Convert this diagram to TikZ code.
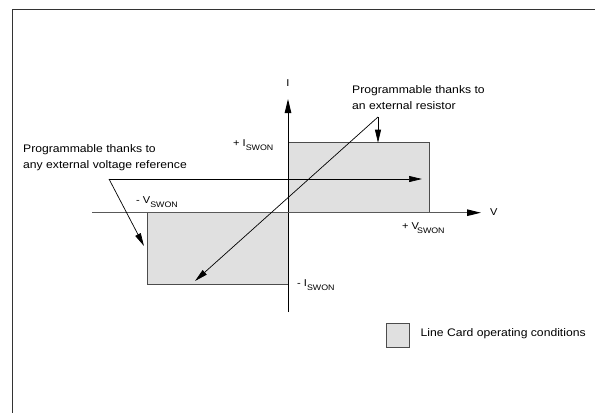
\documentclass[tikz,border=0pt]{standalone}
\usepackage{fontspec}
\setmainfont{Liberation Sans}[FakeStretch=1.11]
\usetikzlibrary{arrows.meta}
\newcommand{\swonlbl}[1]{#1\raisebox{-3.5bp}{\fontsize{8}{8}\selectfont SWON}}
\begin{document}
\begin{tikzpicture}[x=1bp,y=-1bp,
  txt/.style={font=\fontsize{11}{16}\selectfont, inner sep=0pt, align=left, anchor=base west},
  axlbl/.style={font=\fontsize{10}{12}\selectfont, inner sep=0pt, anchor=base west},
  region/.style={draw=black!70, fill=black!12, line width=1bp},
  axisline/.style={draw=black, line width=1bp, -{Triangle[length=14bp,width=6.5bp]}},
  annot/.style={draw=black, line width=0.7bp, -{Triangle[length=13bp,width=6bp]}},
  frameline/.style={draw=black!80, line width=1.3bp}]
\useasboundingbox (0,0) rectangle (595,412);
\draw[frameline] (12.5,413) -- (12.5,9.5) -- (596,9.5);
% regions
\coordinate (O) at (288,212.7);
\coordinate (upTL) at (288,142.7);
\coordinate (upBR) at (429,212.7);
\coordinate (loTL) at (147,212.7);
\coordinate (loBR) at (288,284.3);
\draw[region] (upTL) rectangle (upBR);
\draw[region] (loTL) rectangle (loBR);
% axes
\coordinate (yb) at (288,312);
\coordinate (yt) at (288,99);
\coordinate (xl) at (92,212.7);
\coordinate (xr) at (481,212.7);
\draw[axisline] (yb) -- (yt);
\draw[axisline, draw=black!65, -{Triangle[length=14bp,width=6.5bp,color=black]}] (xl) -- (xr);
\node[font=\fontsize{10}{12}\selectfont, inner sep=0pt] (ilbl) at (288,83) {I};
\node[font=\fontsize{10}{12}\selectfont, inner sep=0pt, anchor=west] (vlbl) at (490,212) {V};
% axis value labels
\node[axlbl] (pI) at (233,146.5) {+ \swonlbl{I}};
\node[axlbl] (mV) at (136,203.5) {- \swonlbl{V}};
\node[axlbl] (pV) at (402,229.5) {+ \swonlbl{V\kern-2bp}};
\node[axlbl] (mI) at (297,286.5) {- \swonlbl{I}};
% annotations
\node[txt] (resnote) at (352,109) {Programmable thanks to\\an external resistor};
\node[txt] (vrefnote) at (23,168) {Programmable thanks to\\any external voltage reference};
\coordinate (R) at (378,117);
\coordinate (Rdown) at (378,142.7);
\coordinate (Rdiag) at (195,281);
\coordinate (L) at (109,179);
\coordinate (Lright) at (422,179);
\coordinate (Ldiag) at (144,246);
\draw[annot] (R) -- (Rdown);
\draw[annot] (R) -- (Rdiag);
\draw[annot] (L) -- (Lright);
\draw[annot] (L) -- (Ldiag);
% legend
\coordinate (legTL) at (386,323);
\coordinate (legBR) at (409,347);
\draw[region] (legTL) rectangle (legBR);
\node[font=\fontsize{11}{14}\selectfont, inner sep=0pt, anchor=west] (legtxt) at (420.5,333.5) {Line Card operating conditions};
\end{tikzpicture}
\end{document}
